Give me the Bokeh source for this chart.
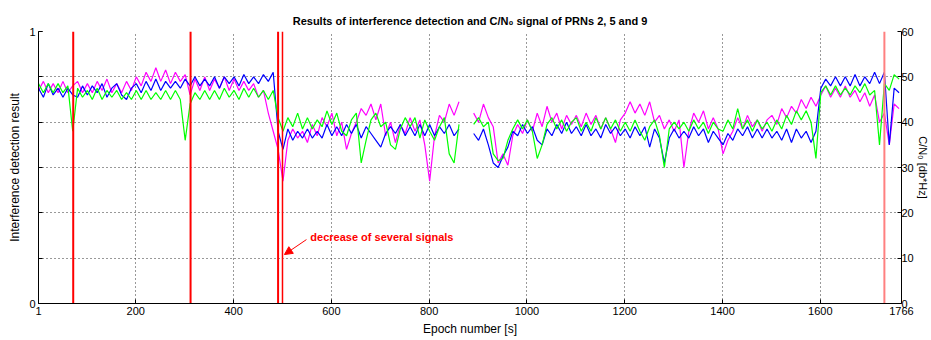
import numpy as np
from bokeh.plotting import figure
from bokeh.models import Range1d, LinearAxis, FixedTicker, Arrow, NormalHead, Label, ColumnDataSource
from bokeh.embed import file_html
from bokeh.resources import INLINE

nan = float("nan")

# epochs sampled every 10 s
epochs = list(range(1, 1767, 10))

# C/N0 [dB*Hz] of the three PRNs
prn_magenta = [
    47, 49, 46.5, 48.5, 46.5, 49, 46.5, 48,
    49, 46.5, 48.5, 46.5, 49, 47, 49.5, 46.5, 48.5, 46.5, 49, 47,
    50, 48, 51, 49, 52, 49, 51.5, 48.5, 51, 49, 50.5,
    46, 49.5, 47, 50, 47, 49.5, 47.5, 50, 47, 49.5, 47, 49, 47, 48.5, 45.5, 47, 42, 38,
    34, 27,
    36, 38.5, 36.5, 38, 35.5, 39.5, 37, 41, 39, 42,
    37, 40, 34, 37.5, 40, 43, 41.5, 44, 40.5, 44,
    37, 40, 35.5, 39.5, 37.5, 41, 38, 40.5, 35, 27,
    37, 41.5, 40, 44, 41.5, 44.5,
    nan, nan,
    42, 40, 44, 41, 39, 31, 33, 30.5, 37, 39.5, 37.5,
    40.5, 38, 42, 39, 43.5, 40, 42, 38.5, 41.5, 39.5,
    41.5, 39, 42, 39.5, 41.5, 38.5, 41, 38.5, 35.5, 40.5,
    42, 44.5, 42, 44, 41.5, 44.5, 40, 41.5, 38.5, 40.5,
    38, 40.5, 30, 38, 42, 40, 42.5, 38.5, 41, 38.5,
    33, 36, 38, 41, 38.5, 41.5, 39, 40.5, 38, 40.5,
    41.5, 39.5, 43, 41, 43.5, 42, 45, 43, 45.5, 43.5,
    46, 48, 45.5, 47.5, 45.5, 48, 45.5, 47, 44.5, 46.5, 43.5, 46, 40, 42, 35, 44, 43,
]
prn_blue = [
    47.5, 45.5, 48.5, 46, 47.5, 45.5, 47.5, 46,
    45.5, 48, 46, 48, 46.5, 48.5, 45.5, 47.5, 48.5, 46, 45, 47.5,
    48.5, 46.5, 49, 47, 49.5, 47, 49, 47.5, 49, 47.5, 49.5,
    48, 50, 48, 49.5, 48, 50, 47.5, 50, 48.5, 50, 48, 50.5, 48.5, 50, 48.5, 50.5, 49, 51,
    38, 34,
    38.5, 36, 38, 36.5, 38.5, 36.5, 38, 36.5, 39.5, 37,
    39, 37, 39.5, 37.5, 39.5, 36.5, 39, 37.5, 36, 34.5,
    37.5, 39, 37.5, 39.5, 37, 39, 37, 39.5, 37, 39.5,
    37, 39, 37.5, 39.5, 37, 38.5,
    nan, nan,
    37.5, 36, 38.5, 35, 31, 30, 32.5, 34.5, 38, 37, 39.5,
    37.5, 39, 36, 35, 38.5, 37, 39.5, 37.5, 40, 37.5,
    39, 37, 39.5, 37, 38.5, 36.5, 39.5, 37.5, 39, 37,
    38.5, 36.5, 39, 37, 39, 34.5, 38.5, 36.5, 31, 36.5,
    38.5, 36.5, 38, 36.5, 39, 37, 38.5, 35.5, 38, 36.5,
    35, 37.5, 36, 38.5, 37, 39, 36.5, 38.5, 36.5, 38.5,
    36.5, 38, 36, 38.5, 35.5, 38.5, 36.5, 38, 35.5, 38,
    47.5, 49.5, 48, 50, 48, 50, 48, 50.5, 48, 50, 48.5, 51, 48.5, 51, 35, 47.5, 46.5,
]
prn_green = [
    48.5, 46.5, 48.5, 46.5, 48.5, 46.5, 48, 38,
    47.5, 45.5, 47, 45, 47.5, 45, 47, 45.5, 47, 45, 46.5, 45,
    47, 45, 47, 45, 46.5, 45, 47, 45, 47, 45, 36,
    44, 46.5, 45, 47, 45, 47, 45, 47.5, 45.5, 47, 45, 47.5, 45.5, 47.5, 45.5, 47, 45, 47,
    41, 38,
    41, 39, 42, 38.5, 41, 38.5, 40.5, 39, 42.5, 39.5,
    42, 38, 37, 40.5, 42, 31, 36, 40.5, 42, 39,
    40, 35, 34, 38.5, 41, 39, 41, 36.5, 40.5, 38,
    36, 39, 41, 33, 31, 39.5,
    nan, nan,
    39.5, 41, 39, 40, 33, 31.5, 32, 36, 38.5, 40.5, 38.5,
    40.5, 38, 32, 35, 39.5, 41, 38.5, 40.5, 38, 40,
    41, 38, 40, 38, 41, 38.5, 41, 38.5, 40.5, 38,
    40, 38, 40.5, 38, 36, 39, 40.5, 37, 30, 38.5,
    40, 38.5, 40, 38, 40.5, 38.5, 40, 37.5, 40, 38.5,
    38, 40.5, 38.5, 43, 38.5, 40.5, 38, 40.5, 38.5, 40,
    38, 40.5, 38.5, 41.5, 39.5, 42.5, 40.5, 42.5, 40, 32,
    46.5, 48, 46, 48, 46, 47.5, 46, 48, 46.5, 48.5, 46, 47, 35, 48.5, 47, 50.5, 49.5,
]

# interference detection result (1 = detected)
det_epochs = [72, 312, 491, 500, 1731]
det_result = [1, 1, 1, 1, 1]

x_ticks = [1, 200, 400, 600, 800, 1000, 1200, 1400, 1600, 1766]
cn0_ticks = [0, 10, 20, 30, 40, 50, 60]

assert len(prn_magenta) == len(epochs), len(prn_magenta)
assert len(prn_blue) == len(epochs), len(prn_blue)
assert len(prn_green) == len(epochs), len(prn_green)

FONT = "Liberation Sans"

p = figure(width=931, height=340, output_backend="svg", toolbar_location=None,
           x_range=Range1d(1, 1766), y_range=Range1d(0, 1),
           min_border_left=38, min_border_right=30, min_border_top=31, min_border_bottom=37,
           title="Results of interference detection and C/N\u2080 signal of PRNs 2, 5 and 9")
p.extra_y_ranges = {"cn0": Range1d(0, 60)}
p.background_fill_color = "white"
p.border_fill_color = "white"
p.outline_line_color = None

p.title.align = "center"
p.title.text_font = FONT
p.title.text_font_size = "11px"
p.title.text_font_style = "bold"
p.title.text_color = "black"

# axes
xa = p.xaxis[0]
xa.ticker = FixedTicker(ticks=x_ticks)
xa.axis_label = "Epoch number [s]"
ya = p.yaxis[0]
ya.ticker = FixedTicker(ticks=[0, 1], minor_ticks=[v / 60 for v in cn0_ticks])
ya.axis_label = "Interference detection result"
ra = LinearAxis(y_range_name="cn0", ticker=FixedTicker(ticks=cn0_ticks),
                axis_label="C/N\u2080 [db*Hz]")
p.add_layout(ra, "right")

for ax in (xa, ya, ra):
    ax.major_tick_in = 4
    ax.major_tick_out = 0
    ax.minor_tick_in = 4
    ax.minor_tick_out = 0
    ax.axis_line_color = "black"
    ax.major_tick_line_color = "black"
    ax.minor_tick_line_color = "black"
    ax.major_label_text_font = FONT
    ax.major_label_text_font_size = "11px"
    ax.major_label_text_color = "black"
    ax.axis_label_text_font = FONT
    ax.axis_label_text_font_size = "12px"
    ax.axis_label_text_font_style = "normal"
    ax.axis_label_text_color = "black"
    ax.major_label_standoff = 3
    ax.axis_label_standoff = 4
ra.major_label_standoff = 0
ra.axis_label_standoff = 0
ra.axis_label_text_font_size = "11px"

# grid
p.xgrid.ticker = FixedTicker(ticks=x_ticks)
p.ygrid.ticker = FixedTicker(ticks=[v / 60 for v in cn0_ticks])
for g in (p.xgrid, p.ygrid):
    g.grid_line_color = "#333333"
    g.grid_line_dash = "1 3"
    g.grid_line_width = 1

# C/N0 series
src = ColumnDataSource(dict(x=np.array(epochs, dtype=float),
                            m=np.array(prn_magenta, dtype=float),
                            b=np.array(prn_blue, dtype=float),
                            g=np.array(prn_green, dtype=float)))
p.line("x", "m", source=src, color="#ff00ff", line_width=1.2, y_range_name="cn0")
p.line("x", "b", source=src, color="#0000ff", line_width=1.2, y_range_name="cn0")
p.line("x", "g", source=src, color="#00ff00", line_width=1.2, y_range_name="cn0")

# detection results
thick = [0, 1, 2]
p.segment(x0=[det_epochs[i] for i in thick], y0=[0] * 3,
          x1=[det_epochs[i] for i in thick], y1=[det_result[i] for i in thick],
          line_color="#ff0000", line_width=2)
p.segment(x0=[det_epochs[3]], y0=[0], x1=[det_epochs[3]], y1=[det_result[3]],
          line_color="#ff0000", line_width=1.5)
p.segment(x0=[det_epochs[4]], y0=[0], x1=[det_epochs[4]], y1=[det_result[4]],
          line_color="#ff8080", line_width=2)

# annotation
p.add_layout(Label(x=557, y=0.246, text="decrease of several signals", text_color="#ff0000",
                   text_font=FONT, text_font_size="11px", text_font_style="bold",
                   text_baseline="middle"))
p.add_layout(Arrow(end=NormalHead(size=8, fill_color="#ff0000", line_color="#ff0000"),
                   x_start=549, y_start=0.235, x_end=504, y_end=0.18,
                   line_color="#ff0000", line_width=1))

open("out.html", "w").write(file_html(p, INLINE))
